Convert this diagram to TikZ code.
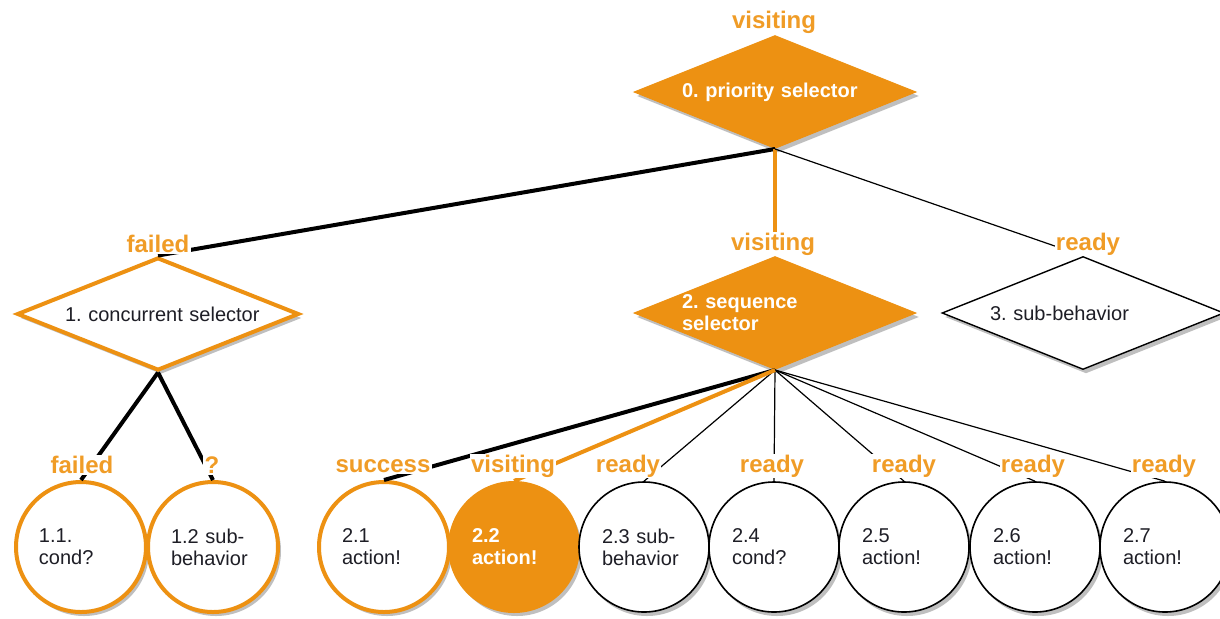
\documentclass[tikz,border=0pt]{standalone}
\usepackage{fontspec}
\setmainfont{Liberation Sans}
\usetikzlibrary{shapes.geometric,shadows}
\definecolor{bo}{RGB}{237,145,18}
\definecolor{lo}{RGB}{240,156,38}
\definecolor{ink}{RGB}{30,30,38}
\frenchspacing
\tikzset{
  shad/.style={drop shadow={shadow xshift=1.5pt,shadow yshift=-2pt,opacity=0.25,fill=black}},
  dia/.style={diamond,minimum width=141pt,minimum height=56.5pt,inner sep=0pt,shad},
  dtext/.style={font=\fontsize{10}{11}\selectfont,align=left,text width=93pt,inner sep=0pt,text=ink},
  dwhite/.style={dtext,text=white,font=\fontsize{10}{11}\selectfont\bfseries},
  odia/.style={dia,fill=bo,draw=bo,line width=0.5pt},
  ldia/.style={dia,fill=white,draw=bo,line width=2pt},
  wdia/.style={dia,fill=white,draw=black,line width=0.7pt},
  circ/.style={circle,minimum size=65pt,inner sep=0pt,shad,font=\fontsize{10}{11}\selectfont,align=left,text width=42pt,text=ink},
  ocirc/.style={circ,fill=white,draw=bo,line width=2pt},
  fcirc/.style={circ,fill=bo,draw=bo,line width=1pt,text=white,font=\fontsize{10}{11}\selectfont\bfseries},
  wcirc/.style={circ,fill=white,draw=black,line width=0.8pt},
  thickb/.style={line width=2pt,black},
  thicko/.style={line width=2pt,bo},
  thinb/.style={line width=0.6pt,black},
  lbl/.style={font=\fontsize{12}{14}\selectfont\bfseries,text=lo,fill=white,inner sep=0.6pt}
}
\begin{document}
\frenchspacing
\begin{tikzpicture}[x=0.5pt,y=-0.5pt]
\useasboundingbox (0,0) rectangle (1220,618);
\fill[white] (0,0) rectangle (1220,618);
% diamonds
\node[odia,label={[dwhite]center:\mbox{0. priority selector}}] (d0) at (775,92) {};
\node[ldia,label={[dtext]center:\mbox{1. concurrent selector}}] (d1) at (158,314) {};
\node[odia,label={[dwhite]center:2. sequence\\selector}] (d2) at (775,313) {};
\node[wdia,label={[dtext]center:\mbox{3. sub-behavior}}] (d3) at (1083,313) {};
% circles
\node[ocirc] (c11) at (81,547) {1.1.\\cond?};
\node[ocirc] (c12) at (213,547) {1.2 sub-\\behavior};
\node[ocirc] (c21) at (384,547) {2.1\\action!};
\node[fcirc] (c22) at (514,547) {2.2\\action!};
\node[wcirc] (c23) at (644,547) {2.3 sub-\\behavior};
\node[wcirc] (c24) at (774,547) {2.4\\cond?};
\node[wcirc] (c25) at (904,547) {2.5\\action!};
\node[wcirc] (c26) at (1035,547) {2.6\\action!};
\node[wcirc] (c27) at (1165,547) {2.7\\action!};
% edges
\draw[thickb] (d0.south) -- (d1.north);
\draw[thicko] (d0.south) -- (d2.north);
\draw[thinb] (d0.south) -- (d3.north);
\draw[thickb] (d1.south) -- (c11.north);
\draw[thickb] (d1.south) -- (c12.north);
\draw[thinb] (d2.south) -- (c23.north);
\draw[thinb] (d2.south) -- (c24.north);
\draw[thinb] (d2.south) -- (c25.north);
\draw[thinb] (d2.south) -- (c26.north);
\draw[thinb] (d2.south) -- (c27.north);
\draw[thickb] (d2.south) -- (c21.north);
\draw[thicko] (d2.south) -- (c22.north);
% status labels
\node[lbl] (l0) at (774,22) {visiting};
\node[lbl] (l1) at (158,244) {failed};
\node[lbl] (l2) at (773,244) {visiting};
\node[lbl] (l3) at (1088,244) {ready};
\node[lbl] (l11) at (82,465) {failed};
\node[lbl] (l12) at (212,465) {?};
\node[lbl] (l21) at (383,466) {success};
\node[lbl] (l22) at (513,466) {visiting};
\node[lbl] (l23) at (628,466) {ready};
\node[lbl] (l24) at (772,466) {ready};
\node[lbl] (l25) at (904,466) {ready};
\node[lbl] (l26) at (1033,466) {ready};
\node[lbl] (l27) at (1164,466) {ready};
\end{tikzpicture}
\end{document}
